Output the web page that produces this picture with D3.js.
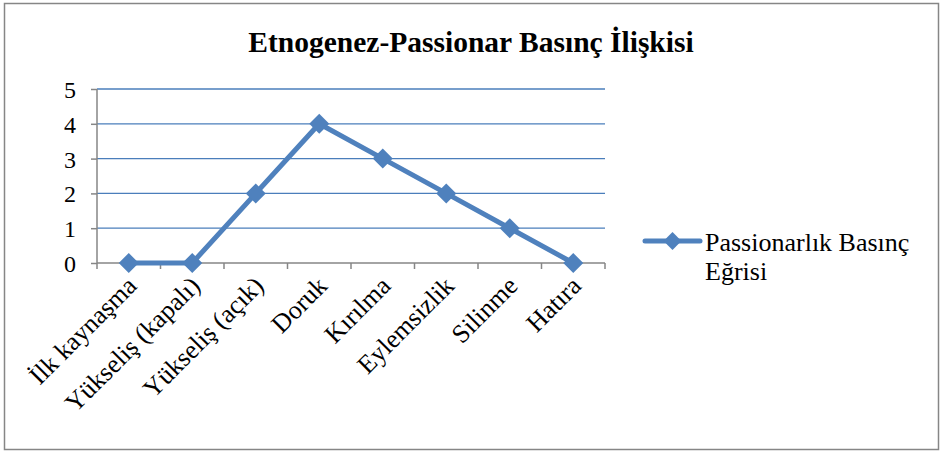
<!DOCTYPE html>
<meta charset="utf-8"/>
<title>Etnogenez-Passionar Basınç İlişkisi</title>
<script src="https://cdn.jsdelivr.net/npm/d3@7"></script>
<style>
    body { margin: 0; background: #fff; }
    text { font-family: "Liberation Serif", "Times New Roman", serif; fill: #000; }
    .grid line { stroke: #4a7ebb; stroke-width: 1.3px; }
    .axis path, .axis line { stroke: #868686; stroke-width: 1.5px; }
</style>
<svg id="chart" width="942" height="453"></svg>
<script>
    "use strict";

    // data
    const categories = ["İlk kaynaşma", "Yükseliş (kapalı)", "Yükseliş (açık)", "Doruk",
        "Kırılma", "Eylemsizlik", "Silinme", "Hatıra"];
    const values = [0, 0, 2, 4, 3, 2, 1, 0];
    const yTicks = [0, 1, 2, 3, 4, 5];
    const seriesName = ["Passionarlık Basınç", "Eğrisi"];
    const title = "Etnogenez-Passionar Basınç İlişkisi";

    const blue = "#4f81bd";
    const svg = d3.select("#chart");

    // outer frame
    svg.append("rect")
        .attr("x", 4.5).attr("y", 3.5)
        .attr("width", 934).attr("height", 446)
        .attr("fill", "#fff")
        .attr("stroke", "#868686")
        .attr("stroke-width", 1.5);

    svg.append("text")
        .attr("x", 471).attr("y", 52)
        .attr("text-anchor", "middle")
        .style("font-size", "29.5px")
        .style("font-weight", "bold")
        .text(title);

    const plotLeft = 97, plotRight = 605, plotTop = 89, plotBottom = 263;

    const x = d3.scaleBand().domain(categories).range([plotLeft, plotRight]);
    const y = d3.scaleLinear().domain([0, 5]).range([plotBottom, plotTop]);

    // gridlines
    svg.append("g").attr("class", "grid")
        .selectAll("line")
        .data(yTicks.filter(function (d) { return d > 0; }))
        .join("line")
        .attr("x1", plotLeft).attr("x2", plotRight)
        .attr("y1", function (d) { return y(d); })
        .attr("y2", function (d) { return y(d); });

    // y axis
    const yAxis = svg.append("g").attr("class", "axis")
        .attr("transform", "translate(" + plotLeft + ",0)")
        .call(d3.axisLeft(y).tickValues(yTicks).tickSize(6).tickPadding(15).tickFormat(d3.format("d")));
    yAxis.select(".domain").remove();
    yAxis.append("line")
        .attr("y1", plotTop).attr("y2", plotBottom);
    yAxis.selectAll("text").style("font-size", "24px").attr("dy", "0.35em");

    // x axis, ticks sit between the categories
    const xg = svg.append("g").attr("class", "axis");
    xg.append("line")
        .attr("x1", plotLeft).attr("x2", plotRight)
        .attr("y1", plotBottom).attr("y2", plotBottom);
    xg.selectAll("line.tick")
        .data(d3.range(categories.length + 1))
        .join("line")
        .attr("class", "tick")
        .attr("x1", function (i) { return plotLeft + i * x.step(); })
        .attr("x2", function (i) { return plotLeft + i * x.step(); })
        .attr("y1", plotBottom).attr("y2", plotBottom + 6);
    xg.selectAll("text")
        .data(categories)
        .join("text")
        .attr("transform", function (d) {
            return "translate(" + (x(d) + x.bandwidth() / 2 + 3) + "," + (plotBottom + 18) + ") rotate(-45)";
        })
        .attr("text-anchor", "end")
        .attr("dy", "0.35em")
        .style("font-size", "26px")
        .text(function (d) { return d; });

    // series line
    const line = d3.line()
        .x(function (d, i) { return x(categories[i]) + x.bandwidth() / 2; })
        .y(function (d) { return y(d); });

    svg.append("path")
        .datum(values)
        .attr("fill", "none")
        .attr("stroke", blue)
        .attr("stroke-width", 5)
        .attr("stroke-linejoin", "round")
        .attr("d", line);

    const diamond = d3.symbol().type(d3.symbolSquare).size(200);
    svg.append("g").selectAll("path")
        .data(values)
        .join("path")
        .attr("d", diamond)
        .attr("fill", blue)
        .attr("transform", function (d, i) {
            return "translate(" + (x(categories[i]) + x.bandwidth() / 2) + "," + y(d) + ") rotate(45)";
        });

    // legend
    const lg = svg.append("g").attr("transform", "translate(645,241)");
    lg.append("line")
        .attr("x1", 0).attr("x2", 55)
        .attr("stroke", blue).attr("stroke-width", 5).attr("stroke-linecap", "round");
    lg.append("path")
        .attr("d", d3.symbol().type(d3.symbolSquare).size(160))
        .attr("fill", blue)
        .attr("transform", "translate(27.5,0) rotate(45)");
    lg.selectAll("text")
        .data(seriesName)
        .join("text")
        .attr("x", 60)
        .attr("y", function (d, i) { return 10 + i * 29; })
        .style("font-size", "26px")
        .text(function (d) { return d; });
</script>
